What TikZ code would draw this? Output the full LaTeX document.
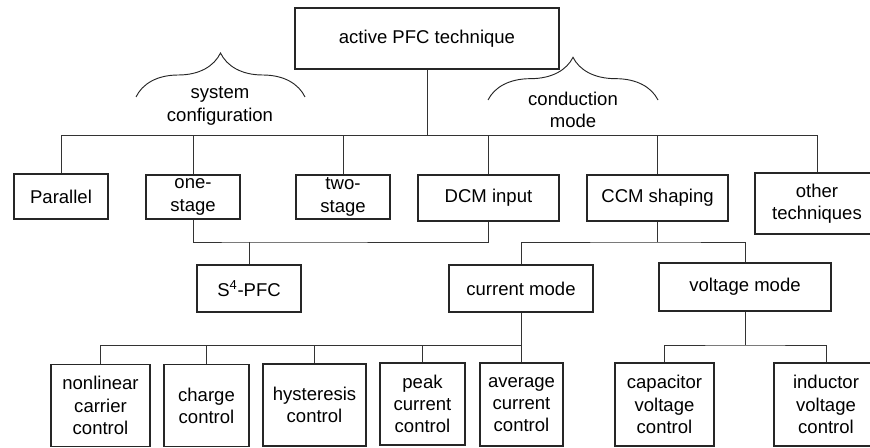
\documentclass[tikz,border=0pt]{standalone}
\usepackage{fontspec}
\setmainfont{Liberation Sans}
\usetikzlibrary{positioning,decorations.pathreplacing}

\begin{document}
\begin{tikzpicture}[
  x=0.75pt,y=-0.75pt,
  box/.style={rectangle,draw=black!85,line width=0.9pt,align=center,
              font=\fontsize{13.9}{16.6}\selectfont,inner sep=2pt},
  lbl/.style={align=center,font=\fontsize{13.9}{16.6}\selectfont,inner sep=0pt},
  conn/.style={black!80,line width=0.7pt},
  brc/.style={decorate,decoration={brace,amplitude=#1},black!85,line width=0.7pt}
]
  \useasboundingbox (0,0) rectangle (870,448);
  \clip (0,0) rectangle (870,448);

  % root
  \node[box,minimum width=198pt,minimum height=45.75pt](top) at (427,38.5){active PFC technique};

  % first level
  \node[box,minimum width=70.5pt,minimum height=33.75pt](par) at (61,196.5){Parallel};
  \node[box,minimum width=70.5pt,minimum height=33pt](one) at (193,197){one-\\stage};
  \node[box,minimum width=70.5pt,minimum height=33pt](two) at (343,197){two-\\stage};
  \node[box,minimum width=105.75pt,minimum height=34.5pt](dcm) at (488.5,198){DCM input};
  \node[box,minimum width=105.75pt,minimum height=34.5pt](ccm) at (657.5,198){CCM shaping};
  \node[box,minimum width=93pt,minimum height=45.75pt](oth) at (817,203.5){other\\techniques};

  % second level
  \node[box,minimum width=78pt,minimum height=35.25pt](s4) at (249,288.5){S\textsuperscript{4}-PFC};
  \node[box,minimum width=108pt,minimum height=35.25pt](cur) at (521,288.5){current mode};
  \node[box,minimum width=129pt,minimum height=36pt](volt) at (745,287){voltage mode};

  % third level
  \node[box,minimum width=74.25pt,minimum height=61.5pt](nlc) at (100.5,405.5){nonlinear\\carrier\\control};
  \node[box,minimum width=63.75pt,minimum height=61.5pt](chg) at (206.5,405.5){charge\\control};
  \node[box,minimum width=77.25pt,minimum height=61.5pt](hys) at (314.5,405){hysteresis\\control};
  \node[box,minimum width=63.75pt,minimum height=61.5pt](peak) at (422.5,404){peak\\current\\control};
  \node[box,minimum width=62.25pt,minimum height=62.25pt](avg) at (521.5,404.5){average\\current\\control};
  \node[box,minimum width=74.25pt,minimum height=62.25pt](cap) at (664.5,404.5){capacitor\\voltage\\control};
  \node[box,minimum width=78pt,minimum height=62.25pt](ind) at (826,404.5){inductor\\voltage\\control};

  % braces
  \draw[brc=33pt](136,97)--(305,97);
  \node[lbl](syscfg) at (220,106){system\\configuration};
  \draw[brc=32pt](488,100)--(658,100);
  \node[lbl](cmode) at (573,110){conduction\\mode};

  % junctions
  \coordinate (j0) at (427,135);
  \coordinate (j1) at (249,242);
  \coordinate (j2) at (657.5,242);
  \coordinate (j3) at (521,345);
  \coordinate (j4) at (745,345);

  \draw[conn](top)--(j0);
  \foreach \n in {par,one,two,dcm,ccm,oth}
    \draw[conn](j0)-|(\n);
  \draw[conn](one)|-(j1)-|(dcm);
  \draw[conn](j1)--(s4);
  \draw[conn](ccm)--(j2);
  \draw[conn](cur)|-(j2)-|(volt);
  \draw[conn](cur)--(j3);
  \foreach \n in {nlc,chg,hys,peak,avg}
    \draw[conn](j3)-|(\n);
  \draw[conn](volt)--(j4);
  \draw[conn](cap)|-(j4)-|(ind);
\end{tikzpicture}
\end{document}
